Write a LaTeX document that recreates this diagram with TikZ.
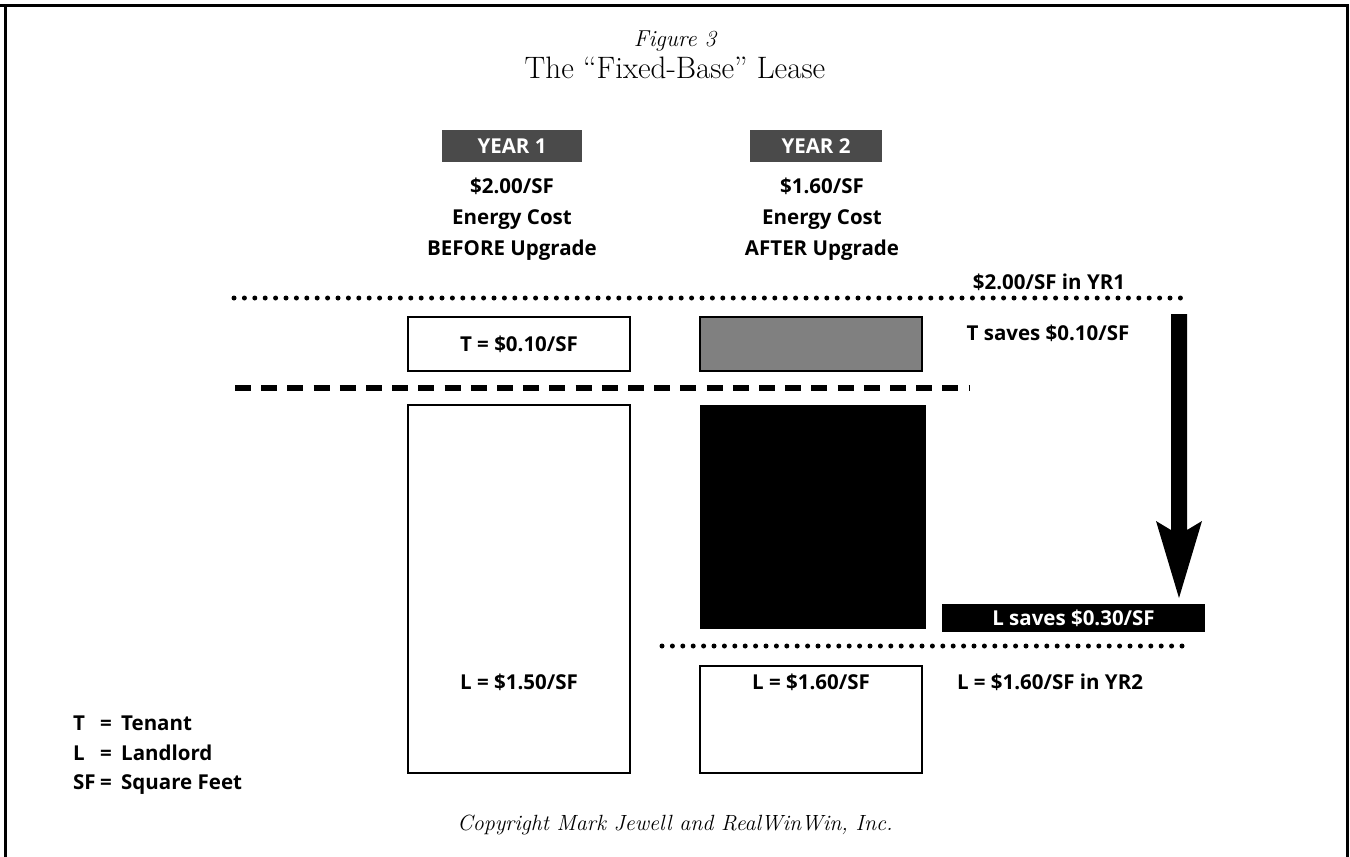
\documentclass[tikz,border=0pt]{standalone}
\usepackage{fontspec}
\newfontfamily\mysans{Open Sans}
\definecolor{yeargray}{HTML}{4A4A4A}
\definecolor{midgray}{HTML}{808080}
\begin{document}
\begin{tikzpicture}[x=1pt,y=-1pt,
  lbl/.style={font=\mysans\bfseries\fontsize{20.5}{24}\selectfont, inner sep=0pt},
  txt/.style={lbl, anchor=base},
  ltxt/.style={lbl, anchor=base west},
  yearbox/.style={lbl, fill=yeargray, text=white, minimum height=32pt},
  valbox/.style={lbl, draw, line width=2.2pt, minimum width=222pt, inner sep=0pt},
  dotline/.style={line width=5pt, line cap=round, dash pattern=on 0pt off 10.4pt},
  dashline/.style={line width=6pt, dash pattern=on 16pt off 10.2pt}]
\useasboundingbox (0,0) rectangle (1350,857);
% frame (open at the bottom)
\draw[line width=3pt] (5,857) -- (5,5) -- (1347,5) -- (1347,857);
\draw[line width=3pt] (0,5) -- (5,5);

% titles
\node[font=\itshape\fontsize{23}{26}\selectfont, inner sep=0pt] (fig) at (675,41) {Figure {\addfontfeatures{Numbers=OldStyle}3}};
\node[font=\fontsize{31}{34}\selectfont, inner sep=0pt] (title) at (675,68) {The ``Fixed-Base'' Lease};

% year headers
\node[yearbox, minimum width=140pt] (y1) at (512,146) {YEAR 1};
\node[yearbox, minimum width=132pt] (y2) at (816,146) {YEAR 2};

\node[txt] (c1a) at (512,193.5) {\$2.00/SF};
\node[txt] (c1b) at (512,224.5) {Energy Cost};
\node[txt] (c1c) at (512,255.5) {BEFORE Upgrade};
\node[txt] (c2a) at (822,193.5) {\$1.60/SF};
\node[txt] (c2b) at (822,224.5) {Energy Cost};
\node[txt] (c2c) at (822,255.5) {AFTER Upgrade};

% top dotted line
\coordinate (d1a) at (234,298);
\coordinate (d1b) at (1190,298);
\draw[dotline] (d1a) -- (d1b);
\node[txt] (yr1) at (1049,289) {\$2.00/SF in YR1};

% tenant boxes
\node[valbox, minimum height=54pt] (t1) at (519,344) {T = \$0.10/SF};
\node[valbox, minimum height=54pt, fill=midgray] (t2) at (811,344) {};
\node[txt] (tsave) at (1048,340) {T saves \$0.10/SF};

% dashed line
\coordinate (dla) at (235,388);
\coordinate (dlb) at (970,388);
\draw[dashline] (dla) -- (dlb);

% landlord boxes
\node[valbox, minimum height=368pt] (l1) at (519,589) {};
\node[txt] (l1t) at (519,689.5) {L = \$1.50/SF};
\node[fill=black, minimum width=226pt, minimum height=224pt, inner sep=0pt] (blk) at (813,517) {};
\node[valbox, minimum height=107pt] (l2) at (811,719.5) {};
\node[txt] (l2t) at (811,689.5) {L = \$1.60/SF};
\node[txt] (lyr2) at (1050,689.5) {L = \$1.60/SF in YR2};

% landlord saving label
\node[lbl, fill=black, text=white, minimum width=263pt, minimum height=28pt] (lsave) at (1073.5,618) {L saves \$0.30/SF};

% lower dotted line
\coordinate (d2a) at (662,646);
\coordinate (d2b) at (1192,646);
\draw[dotline] (d2a) -- (d2b);

% big arrow
\fill (1171,314) -- (1187,314) -- (1187,530) -- (1202,521) -- (1179,598) -- (1156,521) -- (1171,530) -- cycle;

% legend
\node[ltxt] (k1) at (73,730) {T};
\node[txt] (e1) at (106,730) {=};
\node[ltxt] (v1) at (121,730) {Tenant};
\node[ltxt] (k2) at (73,760) {L};
\node[txt] (e2) at (106,760) {=};
\node[ltxt] (v2) at (121,760) {Landlord};
\node[ltxt] (k3) at (73,789) {SF};
\node[txt] (e3) at (106,789) {=};
\node[ltxt] (v3) at (121,789) {Square Feet};

% copyright
\node[font=\itshape\fontsize{22}{26}\selectfont, inner sep=0pt] (copy) at (675,825) {Copyright Mark Jewell and RealWinWin, Inc.};
\end{tikzpicture}
\end{document}
